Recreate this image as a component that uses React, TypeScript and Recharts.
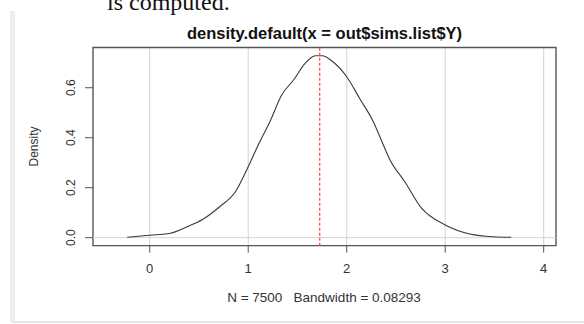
import { LineChart, Line, XAxis, YAxis, CartesianGrid, ReferenceLine, ReferenceArea } from 'recharts'

// density estimate
const densityX = [-0.23, 0.0, 0.21, 0.38, 0.54, 0.71, 0.87, 1.0, 1.11, 1.22, 1.34, 1.46, 1.58, 1.68, 1.75, 1.86, 2.0, 2.13, 2.27, 2.37, 2.44, 2.59, 2.76, 3.0, 3.25, 3.49, 3.67]
const densityY = [0.002, 0.01, 0.018, 0.044, 0.074, 0.124, 0.184, 0.284, 0.378, 0.464, 0.571, 0.631, 0.698, 0.728, 0.728, 0.704, 0.644, 0.558, 0.464, 0.373, 0.311, 0.224, 0.118, 0.051, 0.015, 0.004, 0.002]
const xTicks = [0, 1, 2, 3, 4]
const yTicks = [0, 0.2, 0.4, 0.6]
const xDomain: [number, number] = [-0.576, 4.125]
const yDomain: [number, number] = [-0.032, 0.761]
const meanLine = 1.726

const title = 'density.default(x = out$sims.list$Y)'
const subtitle = 'N = 7500   Bandwidth = 0.08293'

const data = densityX.map((x, i) => ({ x, y: densityY[i] }))

const font = 'Arial, "Liberation Sans", sans-serif'

// eslint-disable-next-line @typescript-eslint/no-explicit-any
function XTick({ x, y, payload }: any) {
  return (
    <text x={x} y={y + 20} textAnchor="middle" fontSize={13} fill="#333" fontFamily={font}>
      {payload.value}
    </text>
  )
}

// eslint-disable-next-line @typescript-eslint/no-explicit-any
function YTick({ x, y, payload }: any) {
  const tx = x - 10
  return (
    <text x={tx} y={y} transform={`rotate(-90 ${tx} ${y})`} textAnchor="middle" fontSize={12} fill="#333" fontFamily={font}>
      {payload.value.toFixed(1)}
    </text>
  )
}

export default function App() {
  return (
    <div style={{ position: 'absolute', left: 0, top: 0, width: 584, height: 324, background: '#fff', overflow: 'hidden' }}>
      <div style={{ position: 'absolute', left: 10, top: 11, width: 5, height: 311, background: '#eeeeee' }} />
      <div style={{ position: 'absolute', left: 12, top: 321, width: 572, height: 2, background: '#e6e6e6' }} />
      <LineChart
        width={584}
        height={324}
        data={data}
        margin={{ top: 47.5, right: 28, bottom: 48.3, left: 63 }}
        style={{ position: 'absolute', left: 0, top: 0 }}
      >
        <CartesianGrid horizontal={false} stroke="#d3d3d3" strokeWidth={1} />
        <ReferenceLine y={0} stroke="#d3d3d3" strokeWidth={1} />
        <XAxis
          type="number"
          dataKey="x"
          domain={xDomain}
          ticks={xTicks}
          allowDataOverflow
          axisLine={false}
          tickLine={{ stroke: '#555' }}
          tickSize={7}
          tickMargin={0}
          height={30}
          tick={<XTick />}
        />
        <YAxis
          type="number"
          dataKey="y"
          domain={yDomain}
          ticks={yTicks}
          allowDataOverflow
          axisLine={false}
          tickLine={{ stroke: '#555' }}
          tickSize={8}
          tickMargin={0}
          width={30}
          tick={<YTick />}
        />
        <ReferenceArea
          x1={xDomain[0]}
          x2={xDomain[1]}
          y1={yDomain[0]}
          y2={yDomain[1]}
          fill="none"
          stroke="#555"
          strokeWidth={1.3}
          ifOverflow="visible"
        />
        <Line
          type="monotone"
          dataKey="y"
          stroke="#3a3a3a"
          strokeWidth={1.1}
          dot={false}
          isAnimationActive={false}
        />
        <ReferenceLine x={meanLine} stroke="#ff4040" strokeWidth={1.2} strokeDasharray="3 2" />
      </LineChart>
      <svg width={584} height={324} style={{ position: 'absolute', left: 0, top: 0, pointerEvents: 'none' }}>
        <text x={107} y={10} fontSize={24} fontFamily='"Liberation Serif", "Times New Roman", serif' fill="#111">
          is computed.
        </text>
        <text x={324.5} y={39} textAnchor="middle" fontSize={16.5} fontWeight="bold" fill="#111" fontFamily={font}>
          {title}
        </text>
        <text x={324} y={302} textAnchor="middle" fontSize={13.5} fill="#333" fontFamily={font} style={{ whiteSpace: 'pre' }}>
          {subtitle}
        </text>
        <text x={38} y={146.5} transform="rotate(-90 38 146.5)" textAnchor="middle" fontSize={12} fill="#333" fontFamily={font}>
          Density
        </text>
      </svg>
    </div>
  )
}
